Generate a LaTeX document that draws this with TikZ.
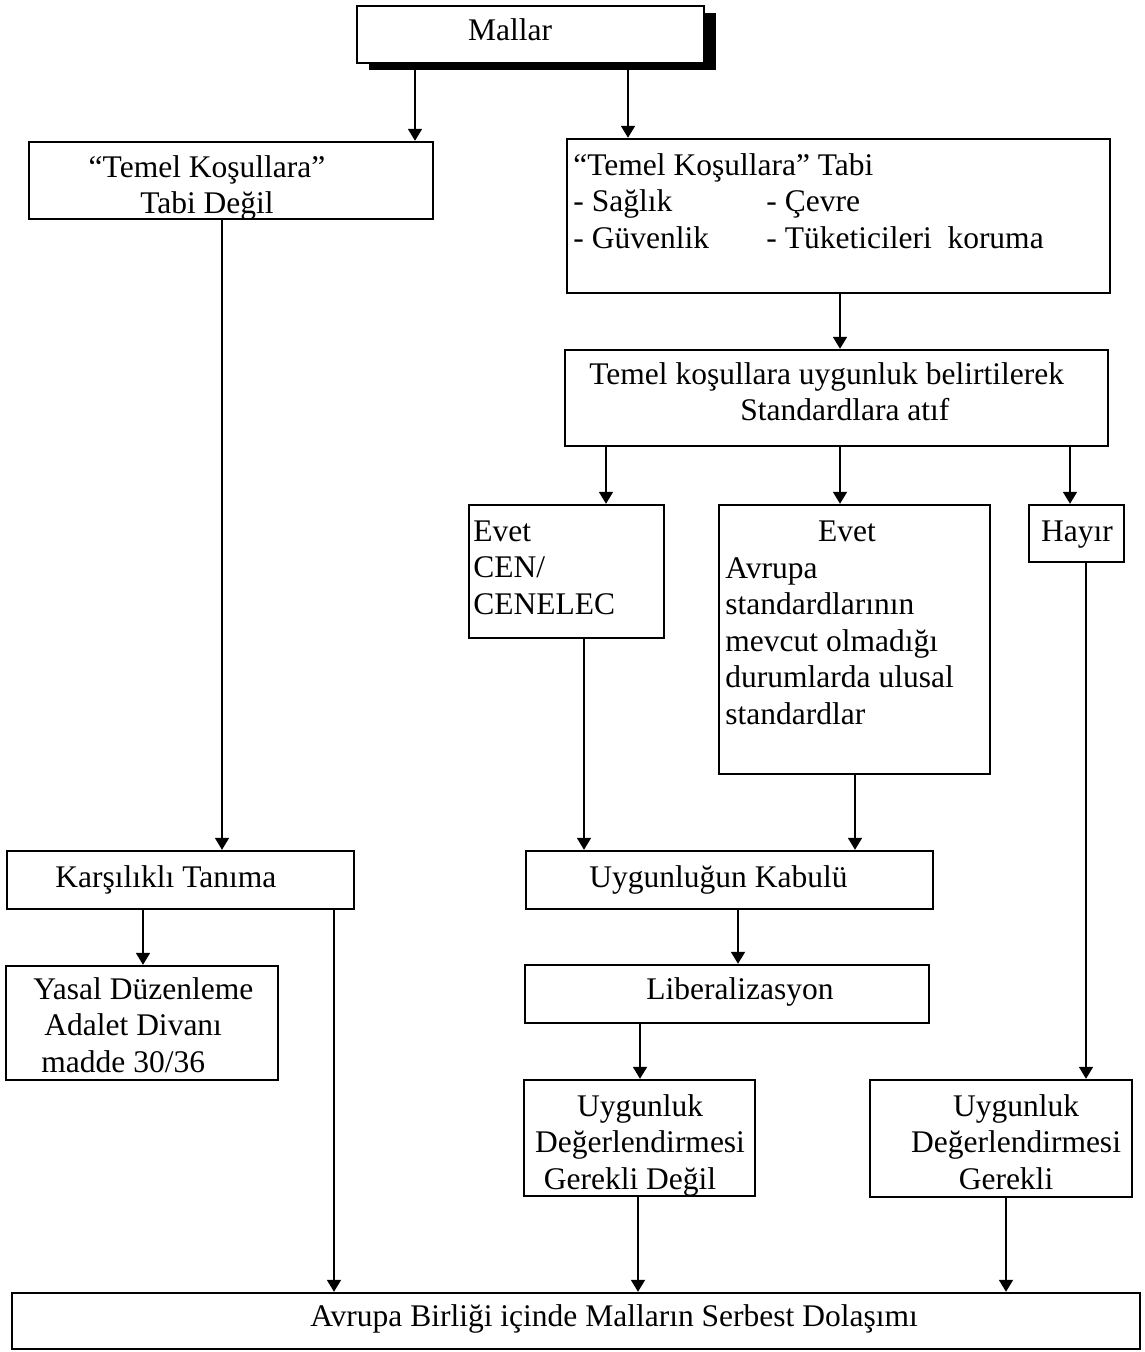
\documentclass[tikz,border=0pt]{standalone}
\usepackage{fontspec}
\setmainfont{Liberation Serif}
\usetikzlibrary{arrows.meta,fit}
% first-line strut so that multi-line labels can be placed by their top edge
\newcommand{\fst}{\rule{0pt}{12pt}}
\begin{document}
\begin{tikzpicture}[x=0.5pt,y=-0.5pt,
  box/.style={draw, line width=1.2pt, inner sep=0pt, fill=white},
  lbl/.style={inner sep=0pt, font=\fontsize{15.75}{18.25}\selectfont},
  arr/.style={line width=0.9pt, -{Triangle[width=7pt,length=6pt]}},
]
\useasboundingbox (0,0) rectangle (1144,1352);

% columns used by the vertical connectors
\coordinate (c415) at (415,0);
\coordinate (c628) at (628,0);
\coordinate (c840) at (840,0);
\coordinate (c606) at (606,0);
\coordinate (c1070) at (1070,0);
\coordinate (c584) at (584,0);
\coordinate (c855) at (855,0);
\coordinate (c1086) at (1086,0);
\coordinate (c222) at (222,0);
\coordinate (c143) at (143,0);
\coordinate (c334) at (334,0);
\coordinate (c738) at (738,0);
\coordinate (c640) at (640,0);
\coordinate (c638) at (638,0);
\coordinate (c1006) at (1006,0);

% boxes
\fill (369,13) rectangle (716,70);
\node[box, fit={(357,6) (704,63)}] (mallar) {};
\node[box, fit={(29,142) (433,219)}] (lb) {};
\node[box, fit={(567,139) (1110,293)}] (rb) {};
\node[box, fit={(565,350) (1108,446)}] (ub) {};
\node[box, fit={(469,505) (664,638)}] (cen) {};
\node[box, fit={(719,505) (990,774)}] (av) {};
\node[box, fit={(1029,505) (1124,562)}] (hay) {};
\node[box, fit={(7,851) (354,909)}] (kt) {};
\node[box, fit={(6,966) (278,1080)}] (yd) {};
\node[box, fit={(526,851) (933,909)}] (uk) {};
\node[box, fit={(525,965) (929,1023)}] (lz) {};
\node[box, fit={(524,1080) (755,1196)}] (udgd) {};
\node[box, fit={(870,1080) (1132,1197)}] (udg) {};
\node[box, fit={(12,1293) (1140,1349)}] (bb) {};

% labels
\node[lbl, anchor=base] (tmallar) at (510,41) {Mallar};
\node[lbl, anchor=north, align=center] (tlb) at (207,153) {\fst“Temel Koşullara”\\Tabi Değil};
\node[lbl, anchor=north west, align=left] (trb) at (573,151)
  {\fst“Temel Koşullara” Tabi\\\makebox[96.5pt][l]{- Sağlık}- Çevre\\\makebox[96.5pt][l]{- Güvenlik}- Tüketicileri\ \ koruma};
\node[lbl, anchor=north west, align=left] (tub) at (589,360)
  {\fst Temel koşullara uygunluk belirtilerek\\\hspace*{75.5pt}Standardlara atıf};
\node[lbl, anchor=north west, align=left] (tcen) at (473,517) {\fst Evet\\CEN/\\CENELEC};
\node[lbl, anchor=base] (tevet) at (847,541) {Evet};
\node[lbl, anchor=north west, align=left] (tav) at (725,554)
  {\fst Avrupa\\standardlarının\\mevcut olmadığı\\durumlarda ulusal\\standardlar};
\node[lbl, anchor=base] (thay) at (1077,541) {Hayır};
\node[lbl, anchor=base west] (tkt) at (55,887) {Karşılıklı Tanıma};
\node[lbl, anchor=north west, align=left] (tyd) at (33,975)
  {\fst Yasal Düzenleme\\\hspace*{5.5pt}Adalet Divanı\\\hspace*{4pt}madde 30/36};
\node[lbl, anchor=base west] (tuk) at (589,887) {Uygunluğun Kabulü};
\node[lbl, anchor=base west] (tlz) at (646,999) {Liberalizasyon};
\node[lbl, anchor=north, align=center] (tudgd) at (640,1092)
  {\fst Uygunluk\\Değerlendirmesi\\Gerekli Değil\hspace*{10pt}};
\node[lbl, anchor=north, align=center] (tudg) at (1016,1092)
  {\fst Uygunluk\\Değerlendirmesi\\Gerekli\hspace*{10pt}};
\node[lbl, anchor=base] (tbb) at (614,1326) {Avrupa Birliği içinde Malların Serbest Dolaşımı};

% connectors
\draw[arr] (c415 |- mallar.south) -- (c415 |- lb.north);
\draw[arr] (c628 |- mallar.south) -- (c628 |- rb.north);
\draw[arr] (c840 |- rb.south) -- (c840 |- ub.north);
\draw[arr] (c606 |- ub.south) -- (c606 |- cen.north);
\draw[arr] (c840 |- ub.south) -- (c840 |- av.north);
\draw[arr] (c1070 |- ub.south) -- (c1070 |- hay.north);
\draw[arr] (c222 |- lb.south) -- (c222 |- kt.north);
\draw[arr] (c584 |- cen.south) -- (c584 |- uk.north);
\draw[arr] (c855 |- av.south) -- (c855 |- uk.north);
\draw[arr] (c1086 |- hay.south) -- (c1086 |- udg.north);
\draw[arr] (c143 |- kt.south) -- (c143 |- yd.north);
\draw[arr] (c334 |- kt.south) -- (c334 |- bb.north);
\draw[arr] (c738 |- uk.south) -- (c738 |- lz.north);
\draw[arr] (c640 |- lz.south) -- (c640 |- udgd.north);
\draw[arr] (c638 |- udgd.south) -- (c638 |- bb.north);
\draw[arr] (c1006 |- udg.south) -- (c1006 |- bb.north);
\end{tikzpicture}
\end{document}
